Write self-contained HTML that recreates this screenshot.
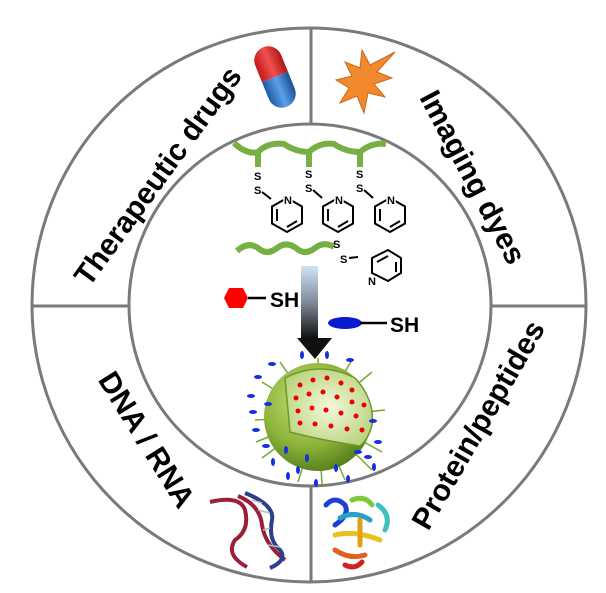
<!DOCTYPE html>
<html><head><meta charset="utf-8"><style>
html,body{margin:0;padding:0;background:#fff;}
svg{display:block;}
text{font-family:"Liberation Sans",Arial,sans-serif;font-weight:bold;fill:#000;}
</style></head><body>
<svg width="606" height="593" viewBox="0 0 606 593" xmlns="http://www.w3.org/2000/svg">
<defs>
<linearGradient id="ag" x1="0" y1="0" x2="0" y2="1">
<stop offset="0" stop-color="#cfe3f5"/><stop offset="0.5" stop-color="#7f8c99"/><stop offset="1" stop-color="#111"/>
</linearGradient>
<radialGradient id="sg" cx="0.4" cy="0.35" r="0.7">
<stop offset="0" stop-color="#c8e07a"/><stop offset="0.6" stop-color="#8db33a"/><stop offset="1" stop-color="#4f7a18"/>
</radialGradient>
<radialGradient id="cg" cx="0.5" cy="0.5" r="0.6">
<stop offset="0" stop-color="#f2f8dc"/><stop offset="1" stop-color="#b8d27a"/>
</radialGradient>
<linearGradient id="pr" x1="0" y1="0" x2="1" y2="0"><stop offset="0" stop-color="#c0191c"/><stop offset="0.5" stop-color="#f05050"/><stop offset="1" stop-color="#b01515"/></linearGradient>
<linearGradient id="pb" x1="0" y1="0" x2="1" y2="0"><stop offset="0" stop-color="#1e5aa8"/><stop offset="0.5" stop-color="#5aa0e8"/><stop offset="1" stop-color="#1a4f96"/></linearGradient>
</defs>

<circle cx="309" cy="305" r="277" fill="none" stroke="#7a7a7a" stroke-width="3"/>
<circle cx="310" cy="305" r="181" fill="none" stroke="#7a7a7a" stroke-width="3"/>
<line x1="311" y1="28" x2="311" y2="124" stroke="#7a7a7a" stroke-width="3"/>
<line x1="311" y1="486" x2="311" y2="582" stroke="#7a7a7a" stroke-width="3"/>
<line x1="32" y1="306" x2="129" y2="306" stroke="#7a7a7a" stroke-width="3"/>
<line x1="491" y1="306" x2="586" y2="306" stroke="#7a7a7a" stroke-width="3"/>

<text x="0" y="0" font-size="30" text-anchor="middle" transform="translate(166,182) rotate(-54)">Therapeutic drugs</text>
<text x="0" y="0" font-size="30" text-anchor="middle" transform="translate(464,182) rotate(62)">Imaging dyes</text>
<text x="0" y="0" font-size="30" text-anchor="middle" transform="translate(138,445) rotate(58)">DNA / RNA</text>
<text x="0" y="0" font-size="30" text-anchor="middle" transform="translate(487,430) rotate(-60)">Protein/peptides</text>

<g transform="translate(275,77) rotate(-22)">
<path d="M-14,0 V-18 A14,14 0 0 1 14,-18 V0 Z" fill="url(#pr)"/>
<path d="M-14,0 V18 A14,14 0 0 0 14,18 V0 Z" fill="url(#pb)"/>
</g>
<polygon fill="#f08a2c" stroke="#d0661a" stroke-width="1" points="395,52 377,72 392,78 374,84 385,97 368,93 364,113 357,96 340,103 349,88 336,80 352,76 345,62 360,68 362,50 370,65"/>

<g fill="none" stroke="#76b043" stroke-width="6" stroke-linejoin="round">
<path d="M234,143 Q247,155 258,152 Q268,142 284,144 Q296,152 309,152 Q320,142 334,144 Q346,152 360,152 Q372,142 386,144"/>
<line x1="258" y1="152" x2="258" y2="167"/><line x1="309" y1="152" x2="309" y2="167"/><line x1="360" y1="152" x2="360" y2="167"/>
<path d="M237,251 Q248,241 258,248 Q267,256 277,248 Q286,241 296,248 Q305,256 315,248 Q324,241 334,247"/>
</g>
<g font-size="11">
<text x="254" y="180">S</text><text x="254" y="194">S</text>
<text x="305" y="178">S</text><text x="305" y="192">S</text>
<text x="356" y="178">S</text><text x="356" y="192">S</text>
<text x="333" y="248">S</text><text x="340" y="263">S</text>
</g>
<g fill="none" stroke="#000" stroke-width="2">
<path d="M262,192 L271,199"/><path d="M313,190 L322,198"/><path d="M364,190 L373,198"/><path d="M349,258 L358,257"/>
<polygon points="287,198 302,206.5 302,223.5 287,232 272,223.5 272,206.5"/>
<polygon points="338,198 353,206.5 353,223.5 338,232 323,223.5 323,206.5"/>
<polygon points="390,198 405,206.5 405,223.5 390,232 375,223.5 375,206.5"/>
<polygon points="372,258 388,250 401,258 401,273 388,281 372,273"/>
<path d="M277,209 V221 M287,227 L297,221 M328,209 V221 M338,227 L348,221 M380,209 V221 M390,227 L400,221 M377,262 L388,256 M396,262 V272"/>
</g>
<g font-size="11">
<text x="284" y="204" stroke="#fff" stroke-width="3" paint-order="stroke">N</text>
<text x="335" y="204" stroke="#fff" stroke-width="3" paint-order="stroke">N</text>
<text x="387" y="204" stroke="#fff" stroke-width="3" paint-order="stroke">N</text>
<text x="368" y="285" stroke="#fff" stroke-width="3" paint-order="stroke">N</text>
</g>

<rect x="301" y="266" width="17" height="72" fill="url(#ag)"/>
<polygon points="297,338 332,338 315,359" fill="#111"/>

<polygon points="224,298 229,288 243,288 248,298 243,308 229,308" fill="#f00"/>
<line x1="248" y1="298" x2="266" y2="298" stroke="#000" stroke-width="2.5"/>
<text x="270" y="307" font-size="21">SH</text>
<ellipse cx="345" cy="323" rx="17" ry="6" fill="#0a1ad0"/>
<line x1="360" y1="323" x2="387" y2="323" stroke="#000" stroke-width="2.5"/>
<text x="390" y="332" font-size="21">SH</text>

<g stroke="#7aa632" stroke-width="1.5">
<line x1="318" y1="417" x2="318" y2="358"/><line x1="318" y1="417" x2="262" y2="382"/><line x1="318" y1="417" x2="255" y2="420"/>
<line x1="318" y1="417" x2="262" y2="458"/><line x1="318" y1="417" x2="298" y2="482"/><line x1="318" y1="417" x2="345" y2="480"/>
<line x1="318" y1="417" x2="382" y2="452"/><line x1="318" y1="417" x2="280" y2="362"/><line x1="318" y1="417" x2="352" y2="360"/>
<line x1="318" y1="417" x2="256" y2="442"/><line x1="318" y1="417" x2="372" y2="470"/><line x1="318" y1="417" x2="322" y2="484"/>
<line x1="318" y1="417" x2="385" y2="410"/><line x1="318" y1="417" x2="372" y2="372"/>
</g>
<circle cx="318" cy="417" r="54" fill="url(#sg)"/>
<path d="M285,378 Q320,360 355,378 Q375,400 372,425 Q368,440 360,446 Q320,440 290,432 Z" fill="url(#cg)" stroke="#6a9a28" stroke-width="1.5"/>
<g fill="#e00">
<circle cx="300" cy="385" r="2.5"/><circle cx="313" cy="380" r="2.5"/><circle cx="327" cy="378" r="2.5"/><circle cx="341" cy="383" r="2.5"/><circle cx="352" cy="390" r="2.5"/>
<circle cx="296" cy="398" r="2.5"/><circle cx="309" cy="394" r="2.5"/><circle cx="323" cy="392" r="2.5"/><circle cx="337" cy="397" r="2.5"/><circle cx="352" cy="402" r="2.5"/><circle cx="364" cy="405" r="2.5"/>
<circle cx="298" cy="411" r="2.5"/><circle cx="312" cy="408" r="2.5"/><circle cx="326" cy="410" r="2.5"/><circle cx="341" cy="413" r="2.5"/><circle cx="356" cy="416" r="2.5"/>
<circle cx="300" cy="423" r="2.5"/><circle cx="315" cy="424" r="2.5"/><circle cx="331" cy="426" r="2.5"/><circle cx="347" cy="429" r="2.5"/><circle cx="362" cy="430" r="2.5"/>
</g>
<g fill="#1530e0">
<ellipse cx="302" cy="355" rx="2" ry="4"/><ellipse cx="327" cy="355" rx="2" ry="4"/><ellipse cx="350" cy="360" rx="4" ry="2"/>
<ellipse cx="272" cy="364" rx="4" ry="2"/><ellipse cx="258" cy="377" rx="4" ry="2"/><ellipse cx="251" cy="396" rx="4" ry="2"/>
<ellipse cx="253" cy="412" rx="4" ry="2"/><ellipse cx="268" cy="404" rx="4" ry="2"/><ellipse cx="256" cy="430" rx="4" ry="2"/>
<ellipse cx="266" cy="446" rx="4" ry="2"/><ellipse cx="273" cy="462" rx="2" ry="4"/><ellipse cx="298" cy="470" rx="2" ry="4"/>
<ellipse cx="307" cy="458" rx="2" ry="4"/><ellipse cx="286" cy="450" rx="2" ry="4"/><ellipse cx="316" cy="483" rx="2" ry="4"/>
<ellipse cx="336" cy="468" rx="2" ry="4"/><ellipse cx="348" cy="479" rx="2" ry="4"/><ellipse cx="358" cy="452" rx="4" ry="2"/>
<ellipse cx="374" cy="467" rx="2" ry="4"/><ellipse cx="378" cy="442" rx="4" ry="2"/><ellipse cx="373" cy="421" rx="4" ry="2"/>
<ellipse cx="368" cy="457" rx="4" ry="2"/><ellipse cx="288" cy="476" rx="2" ry="4"/>
</g>

<g fill="none" stroke-width="4">
<path d="M210,502 Q240,495 245,510 Q250,530 235,540 Q225,555 247,567" stroke="#9c1f3a"/>
<path d="M238,496 Q260,505 262,525 Q265,545 285,560" stroke="#9c1f3a"/>
<path d="M245,493 Q275,505 272,520 Q268,540 280,550 Q288,560 270,568" stroke="#2b3f8c"/>
</g>
<g stroke="#bbb" stroke-width="1.5"><line x1="252" y1="500" x2="262" y2="503"/><line x1="258" y1="510" x2="270" y2="513"/><line x1="263" y1="530" x2="270" y2="528"/><line x1="268" y1="545" x2="280" y2="547"/></g>

<g fill="none" stroke-width="5" stroke-linecap="round">
<path d="M326,505 Q335,495 345,505 Q350,515 335,525" stroke="#1e3fd6"/>
<path d="M340,518 Q355,510 370,520" stroke="#2aa0c8"/>
<path d="M352,500 Q365,495 372,505" stroke="#7ec83a"/>
<path d="M378,505 Q392,515 385,530" stroke="#3fc0c0"/>
<path d="M335,535 Q355,530 380,540" stroke="#e8c020"/>
<path d="M360,520 V545" stroke="#e0a010"/>
<path d="M335,550 Q350,560 365,555" stroke="#e06020"/>
<path d="M345,565 Q355,570 362,562" stroke="#d02020"/>
</g>
</svg>
</body></html>
